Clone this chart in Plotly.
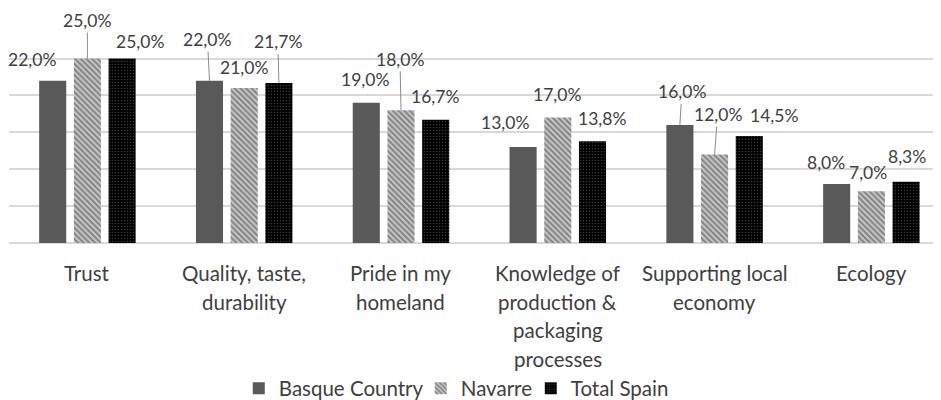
import plotly.graph_objects as go

categories = ["Trust", "Quality, taste,\ndurability", "Pride in my\nhomeland",
              "Knowledge of\nproduction &\npackaging\nprocesses",
              "Supporting local\neconomy", "Ecology"]
series_names = ["Basque Country", "Navarre", "Total Spain"]
basque = [22.0, 22.0, 19.0, 13.0, 16.0, 8.0]
navarre = [25.0, 21.0, 18.0, 17.0, 12.0, 7.0]
spain = [25.0, 21.7, 16.7, 13.8, 14.5, 8.3]
values = [basque, navarre, spain]

# label placement (pixel offsets of label centre from bar top, leader flag)
label_offsets = [
    [(-21, -21, 0), (-2, -41, 1), (-1, -23, 0), (-18, -25, 0), (2, -33, 1), (-11, -22, 0)],
    [(0, -38, 1), (0, -21, 0), (-1, -51, 1), (-1, -23, 0), (3, -40, 1), (-3, -19, 0)],
    [(18, -17, 0), (-1, -41, 1), (-1, -23, 0), (10, -23, 0), (25, -21, 0), (1, -25, 0)],
]
legend_widths = [137, 65, 100]

FONT = "Lato"
TXT = "#404040"
bargap = 0.336
slot = (1 - bargap) / 3

styles = [
    dict(color="#595959"),
    dict(color="#8a8a8a", pattern=dict(shape="\\", fgcolor="#3c3c3c", bgcolor="#c8c8c8",
                                       size=4, solidity=0.5)),
    dict(color="#000000", pattern=dict(shape=".", fgcolor="#6e6e6e", bgcolor="#000000",
                                       size=3, solidity=0.22)),
]

fig = go.Figure()
xs = list(range(len(categories)))
for name, vals, st, lw in zip(series_names, values, styles, legend_widths):
    fig.add_trace(go.Bar(x=xs, y=vals, name=name, legendwidth=lw,
                         marker=dict(line=dict(width=0), **st)))

annotations = []
for s, vals in enumerate(values):
    for i, v in enumerate(vals):
        dx, dy, leader = label_offsets[s][i]
        txt = f"{v:.1f}%".replace(".", ",")
        xpos = i + (s - 1) * slot
        if leader:
            annotations.append(dict(x=xpos, y=v, xref="x", yref="y", text=txt,
                                    showarrow=True, ax=dx, ay=dy, arrowhead=0,
                                    arrowwidth=1, arrowcolor="#8c8c8c", standoff=0,
                                    font=dict(family=FONT, size=17.5, color=TXT)))
        else:
            annotations.append(dict(x=xpos, y=v, xref="x", yref="y", text=txt,
                                    showarrow=False, xshift=dx, yshift=-dy,
                                    font=dict(family=FONT, size=17.5, color=TXT)))

for i, cat in enumerate(categories):
    for k, line in enumerate(cat.split("\n")):
        annotations.append(dict(x=i, y=0, xref="x", yref="y", text=line, showarrow=False,
                                yanchor="middle", yshift=-(30 + k * 28.5),
                                font=dict(family=FONT, size=20.5, color=TXT)))

# page body adds an 8px margin; the figure is sized to fill the rest of the window
fig.update_layout(
    width=933, height=392,
    margin=dict(l=1, r=0, t=13, b=157, autoexpand=False),
    plot_bgcolor="white", paper_bgcolor="white",
    barmode="group", bargap=bargap, bargroupgap=0.22,
    font=dict(family=FONT, color=TXT),
    xaxis=dict(range=[-0.5, 5.444], showticklabels=False, showgrid=False,
               showline=False, zeroline=False, ticks=""),
    yaxis=dict(range=[0, 30.1], tickvals=[0, 5, 10, 15, 20, 25, 30], showticklabels=False,
               showgrid=True, gridcolor="#d9d9d9", gridwidth=1.5, zeroline=True,
               zerolinecolor="#d9d9d9", zerolinewidth=1.5, showline=False),
    legend=dict(orientation="h", x=0.481, xanchor="center", y=-0.655, yanchor="middle",
                font=dict(family=FONT, size=20.5, color=TXT), traceorder="normal"),
    annotations=annotations,
    showlegend=True,
)

fig.write_html("out.html")
